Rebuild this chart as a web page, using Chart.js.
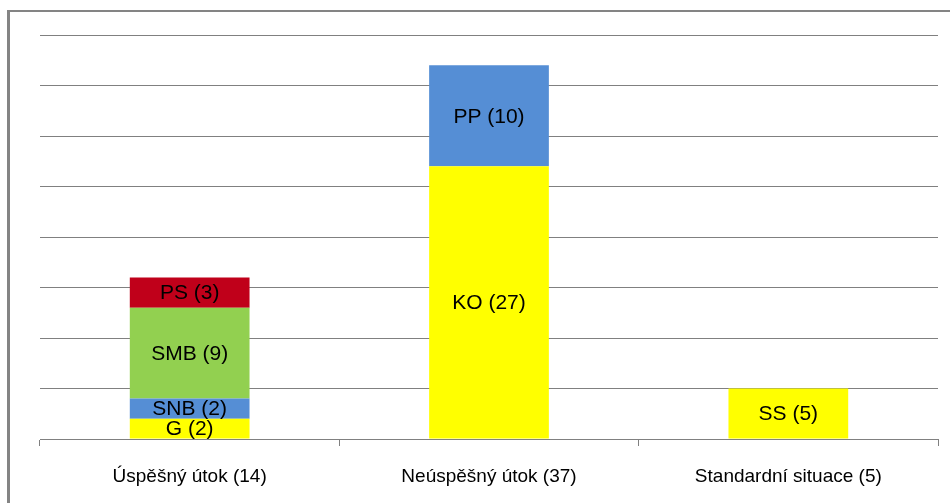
<!DOCTYPE html>
<html>
<head>
<meta charset="utf-8">
<script src="https://cdn.jsdelivr.net/npm/chart.js@4.4.0/dist/chart.umd.min.js"></script>
<style>
html,body{margin:0;padding:0;background:#fff;}
#wrap{position:relative;width:950px;height:503px;}
</style>
</head>
<body>
<div id="wrap"><canvas id="c" width="950" height="503"></canvas></div>
<script>
const categories = ["Úspěšný útok (14)", "Neúspěšný útok (37)", "Standardní situace (5)"];
const yellowValues = [2, 27, 5];
const yellowLabels = ["G (2)", "KO (27)", "SS (5)"];
const blueValues = [2, 10, 0];
const blueLabels = ["SNB (2)", "PP (10)", ""];
const greenValues = [9, 0, 0];
const greenLabels = ["SMB (9)", "", ""];
const redValues = [3, 0, 0];
const redLabels = ["PS (3)", "", ""];
const yMax = 40;
const yStep = 5;

const GRID = '#808080';
const FONT = '"Liberation Sans", Arial, sans-serif';

const framePlugin = {
  id: 'frame',
  beforeDraw(chart) {
    const ctx = chart.ctx;
    ctx.save();
    ctx.fillStyle = '#ffffff';
    ctx.fillRect(0, 0, chart.width, chart.height);
    ctx.strokeStyle = '#848484';
    ctx.lineWidth = 2;
    ctx.beginPath();
    ctx.moveTo(7, 11);
    ctx.lineTo(950, 11);
    ctx.stroke();
    ctx.lineWidth = 3;
    ctx.beginPath();
    ctx.moveTo(8.5, 10);
    ctx.lineTo(8.5, 503);
    ctx.stroke();
    ctx.restore();
  }
};

const segLabelPlugin = {
  id: 'segLabels',
  afterDatasetsDraw(chart) {
    const ctx = chart.ctx;
    ctx.save();
    ctx.fillStyle = '#000';
    ctx.font = '21px ' + FONT;
    ctx.textAlign = 'center';
    ctx.textBaseline = 'middle';
    chart.data.datasets.forEach((ds, di) => {
      const meta = chart.getDatasetMeta(di);
      meta.data.forEach((bar, i) => {
        const lbl = ds.segLabels[i];
        if (!lbl || !ds.data[i]) return;
        const y = (bar.y + bar.base) / 2;
        ctx.fillText(lbl, bar.x, y + 1);
      });
    });
    ctx.restore();
  }
};

function mk(label, data, labels, color) {
  return {
    label: label, data: data, segLabels: labels,
    backgroundColor: color, borderWidth: 0,
    categoryPercentage: 1.0, barPercentage: 0.4
  };
}

new Chart(document.getElementById('c'), {
  type: 'bar',
  data: {
    labels: categories,
    datasets: [
      mk('yellow', yellowValues, yellowLabels, '#FFFF00'),
      mk('blue', blueValues, blueLabels, '#558ED5'),
      mk('green', greenValues, greenLabels, '#92D050'),
      mk('red', redValues, redLabels, '#C0001A')
    ]
  },
  options: {
    responsive: false,
    animation: false,
    devicePixelRatio: 1,
    layout: { padding: { left: 40, right: 12, top: 35, bottom: 0 } },
    plugins: { legend: { display: false }, tooltip: { enabled: false } },
    scales: {
      x: {
        stacked: true,
        offset: true,
        grid: { offset: true, drawOnChartArea: false, drawTicks: true, tickLength: 7, color: GRID, lineWidth: 1 },
        border: { display: true, color: GRID, width: 1 },
        ticks: { color: '#000', font: { family: FONT, size: 19 }, padding: 19 },
        afterFit(s) { s.height = 64; }
      },
      y: {
        stacked: true,
        min: 0, max: yMax,
        ticks: { display: false, stepSize: yStep },
        grid: { color: GRID, lineWidth: 1, drawTicks: false },
        border: { display: false },
        afterFit(s) { s.width = 0; }
      }
    }
  },
  plugins: [framePlugin, segLabelPlugin]
});
</script>
</body>
</html>
